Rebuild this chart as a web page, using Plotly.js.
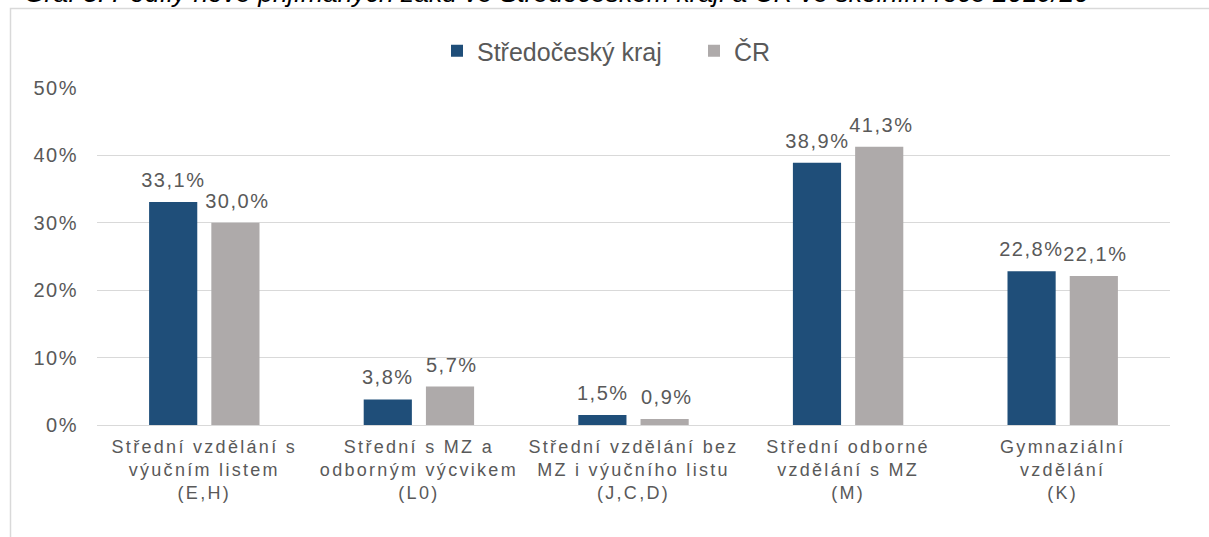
<!DOCTYPE html>
<html>
<head>
<meta charset="utf-8">
<script src="https://cdn.plot.ly/plotly-3.0.1.min.js"></script>
<style>
html,body{margin:0;padding:0;background:#fff}
#chart{width:1209px;height:537px}
#chart .ytick text, #chart .annotation text{letter-spacing:1.5px !important}
#chart .xtick text{letter-spacing:2.3px !important}
#chart .annotation[data-index="0"] text{letter-spacing:0 !important}
</style>
</head>
<body>
<div id="chart"></div>
<script>
const categories = [
  "Střední vzdělání s<br>výučním listem<br>(E,H)",
  "Střední s MZ a<br>odborným výcvikem<br>(L0)",
  "Střední vzdělání bez<br>MZ i výučního listu<br>(J,C,D)",
  "Střední odborné<br>vzdělání s MZ<br>(M)",
  "Gymnaziální<br>vzdělání<br>(K)"
];
const stredocesky = [0.331, 0.038, 0.015, 0.389, 0.228];
const cr = [0.300, 0.057, 0.009, 0.413, 0.221];
const seriesNames = ["Středočeský kraj", "ČR"];
const seriesColors = ["#1f4e79", "#aeaaaa"];
const titleText = "Graf 3: Podíly nově přijímaných žáků ve Středočeském kraji a ČR ve školním roce 2019/20";

const W = 1209, H = 537;
const m = {l: 97, r: 39, t: 88, b: 112};
const pw = W - m.l - m.r, ph = H - m.t - m.b;
const px = x => (x - m.l) / pw;
const py = y => (H - m.b - y) / ph;

const FAM = "Liberation Sans, Arial, sans-serif";
const GRAY = "#595959";
const fmt = v => (v * 100).toFixed(1).replace(".", ",") + "%";

const traces = [stredocesky, cr].map((vals, i) => ({
  type: "bar", name: seriesNames[i], x: categories, y: vals,
  marker: {color: seriesColors[i]}, hoverinfo: "skip"
}));

const barLabels = [];
[stredocesky, cr].forEach((vals, i) => {
  vals.forEach((v, j) => {
    barLabels.push({
      text: fmt(v), x: categories[j], y: v, xref: "x", yref: "y",
      xshift: i === 0 ? -31 : 33, yshift: 9, yanchor: "bottom", xanchor: "center",
      showarrow: false, font: {family: FAM, size: 20, color: GRAY}
    });
  });
});

const layout = {
  width: W, height: H,
  margin: m,
  paper_bgcolor: "#fff", plot_bgcolor: "#fff",
  separators: ", ",
  font: {family: FAM, size: 18, color: GRAY},
  barmode: "group",
  bargap: 0.42,
  bargroupgap: 0.226,
  showlegend: true,
  legend: {orientation: "h", x: px(437), xanchor: "left", xref: "paper",
           y: py(51), yanchor: "middle", font: {family: FAM, size: 25, color: GRAY},
           entrywidth: 212, entrywidthmode: "pixels", traceorder: "normal"},
  xaxis: {showgrid: false, showline: true, linecolor: "#d9d9d9", linewidth: 1,
          ticks: "", ticklabelstandoff: 5, tickfont: {family: FAM, size: 18, color: GRAY}, automargin: false},
  yaxis: {range: [0, 0.5], dtick: 0.1, tickformat: ".0%", gridcolor: "#d9d9d9",
          gridwidth: 1, zeroline: false, showline: false, ticks: "", ticklabelstandoff: 18,
          tickfont: {family: FAM, size: 20, color: GRAY}, automargin: false},
  shapes: [
    {type: "rect", xref: "paper", yref: "paper", x0: px(10.5), x1: px(1215), y0: py(8.5), y1: py(545),
     line: {color: "#d9d9d9", width: 1.5}, fillcolor: "rgba(0,0,0,0)", layer: "below"}
  ],
  annotations: [
    {text: "<i>" + titleText + "</i>", xref: "paper", yref: "paper", x: px(22), xanchor: "left",
     y: py(10), yanchor: "bottom", showarrow: false,
     font: {family: FAM, size: 26.5, color: "#000"}}
  ].concat(barLabels)
};

Plotly.newPlot("chart", traces, layout, {displayModeBar: false, staticPlot: true});
</script>
</body>
</html>
